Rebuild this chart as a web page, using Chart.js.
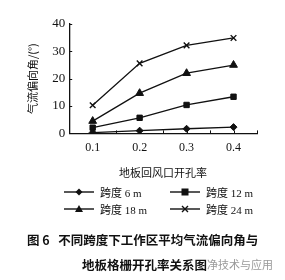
<!DOCTYPE html>
<html>
<head>
<meta charset="utf-8">
<script src="https://cdn.jsdelivr.net/npm/chart.js@4/dist/chart.umd.min.js"></script>
<style>
  body { margin: 0; background: #fff; }
  #wrap { position: relative; width: 285px; height: 280px; overflow: hidden; }
  #myChart { position: absolute; left: 0; top: 0; }
  .leg { position: absolute; height: 14px; font: 11px "Liberation Serif", "Noto Sans CJK SC"; color: #111; white-space: nowrap; }
  .leg svg { position: absolute; left: 0; top: 1px; }
  .leg span { position: absolute; top: -1px; }
  .cap { position: absolute; font: bold 12.5px "Noto Sans CJK SC"; color: #111; white-space: nowrap; }
  .wm { position: absolute; font: 11px "Noto Sans CJK SC"; color: #999; white-space: nowrap; }
</style>
</head>
<body>
<div id="wrap">
  <canvas id="myChart" width="285" height="185"></canvas>
  <div class="leg" style="left:64px; top:185px;">
    <svg width="30" height="12"><line x1="0" y1="6" x2="30" y2="6" stroke="#111" stroke-width="1.4"/><polygon points="15,2.5 18.5,6 15,9.5 11.5,6" fill="#111"/></svg>
    <span style="left:36px;">跨度 6 m</span>
  </div>
  <div class="leg" style="left:170px; top:185px;">
    <svg width="30" height="12"><line x1="0" y1="6" x2="30" y2="6" stroke="#111" stroke-width="1.4"/><rect x="11.5" y="2.5" width="7" height="7" fill="#111"/></svg>
    <span style="left:36px;">跨度 12 m</span>
  </div>
  <div class="leg" style="left:64px; top:202px;">
    <svg width="30" height="12"><line x1="0" y1="6" x2="30" y2="6" stroke="#111" stroke-width="1.4"/><polygon points="15,2 19,9 11,9" fill="#111"/></svg>
    <span style="left:36px;">跨度 18 m</span>
  </div>
  <div class="leg" style="left:170px; top:202px;">
    <svg width="30" height="12"><line x1="0" y1="6" x2="30" y2="6" stroke="#111" stroke-width="1.4"/><path d="M12,3 L18,9 M18,3 L12,9" stroke="#111" stroke-width="1.4"/></svg>
    <span style="left:36px;">跨度 24 m</span>
  </div>
  <div class="cap" style="left:27px; top:230px;">图 6&nbsp;&nbsp;&nbsp;不同跨度下工作区平均气流偏向角与</div>
  <div class="cap" style="left:82px; top:255px;">地板格栅开孔率关系图</div>
  <div class="wm" style="left:207px; top:256px;">净技术与应用</div>
</div>
<script>
// 开孔率
const openRatio = [0.1, 0.2, 0.3, 0.4];
// 气流偏向角 (°)
const span6 = [0.3, 1.0, 1.7, 2.3];
const span12 = [2.1, 5.7, 10.4, 13.4];
const span18 = [4.5, 14.7, 22.0, 25.0];
const span24 = [10.3, 25.6, 32.2, 34.9];
const xTicks = [0.1, 0.2, 0.3, 0.4];
const yTicks = [0, 10, 20, 30, 40];
const xMinor = [0.15, 0.25, 0.35, 0.45];

function pts(vals) {
  return vals.map((v, i) => ({ x: openRatio[i], y: v }));
}

function series(label, vals, style, radius) {
  return {
    label: label,
    data: pts(vals),
    borderColor: "#111",
    backgroundColor: "#111",
    borderWidth: 1.3,
    pointStyle: style,
    pointRadius: radius,
    pointBorderWidth: style === "crossRot" ? 1.4 : 1,
    pointBorderColor: "#111",
    pointBackgroundColor: "#111",
  };
}

// small inward ticks like the printed figure
const innerTicks = {
  id: "innerTicks",
  afterDraw(chart) {
    const ctx = chart.ctx;
    const xs = chart.scales.x;
    const ys = chart.scales.y;
    ctx.save();
    ctx.strokeStyle = "#111";
    ctx.lineWidth = 1;
    ctx.beginPath();
    xTicks.concat(xMinor).forEach((v) => {
      const px = Math.round(xs.getPixelForValue(v)) + 0.5;
      ctx.moveTo(px, xs.top);
      ctx.lineTo(px, xs.top - 3);
    });
    yTicks.slice(1).forEach((v) => {
      const py = Math.round(ys.getPixelForValue(v)) + 0.5;
      ctx.moveTo(ys.right, py);
      ctx.lineTo(ys.right + 3, py);
    });
    ctx.stroke();
    ctx.restore();
  },
};

new Chart(document.getElementById("myChart"), {
  type: "line",
  data: {
    datasets: [
      series("跨度 6 m", span6, "rectRot", 3.5),
      series("跨度 12 m", span12, "rect", 3.8),
      series("跨度 18 m", span18, "triangle", 4.5),
      series("跨度 24 m", span24, "crossRot", 4),
    ],
  },
  options: {
    responsive: false,
    animation: false,
    layout: { padding: { top: 24, right: 28, left: 0, bottom: 0 } },
    plugins: { legend: { display: false }, tooltip: { enabled: false } },
    scales: {
      x: {
        type: "linear",
        min: 0.05,
        max: 0.45,
        afterBuildTicks: (s) => { s.ticks = xTicks.map((v) => ({ value: v })); },
        grid: { display: false, drawTicks: false },
        border: { display: true, color: "#111", width: 1.3 },
        ticks: {
          padding: 7,
          color: "#111",
          font: { family: "Liberation Serif", size: 12 },
          callback: (v) => v.toFixed(1),
        },
        title: {
          display: true,
          text: "地板回风口开孔率",
          color: "#111",
          font: { family: "Noto Sans CJK SC", size: 11 },
          padding: { top: 4, bottom: 6 },
        },
      },
      y: {
        min: 0,
        max: 40,
        afterBuildTicks: (s) => { s.ticks = yTicks.map((v) => ({ value: v })); },
        grid: { display: false, drawTicks: false },
        border: { display: true, color: "#111", width: 1.3 },
        ticks: {
          padding: 4,
          color: "#111",
          font: { family: "Liberation Serif", size: 13 },
        },
        title: {
          display: true,
          text: "气流偏向角/(°)",
          color: "#111",
          font: { family: "Noto Sans CJK SC", size: 11 },
          padding: { top: 26, bottom: 9 },
        },
      },
    },
  },
  plugins: [innerTicks],
});
</script>
</body>
</html>
